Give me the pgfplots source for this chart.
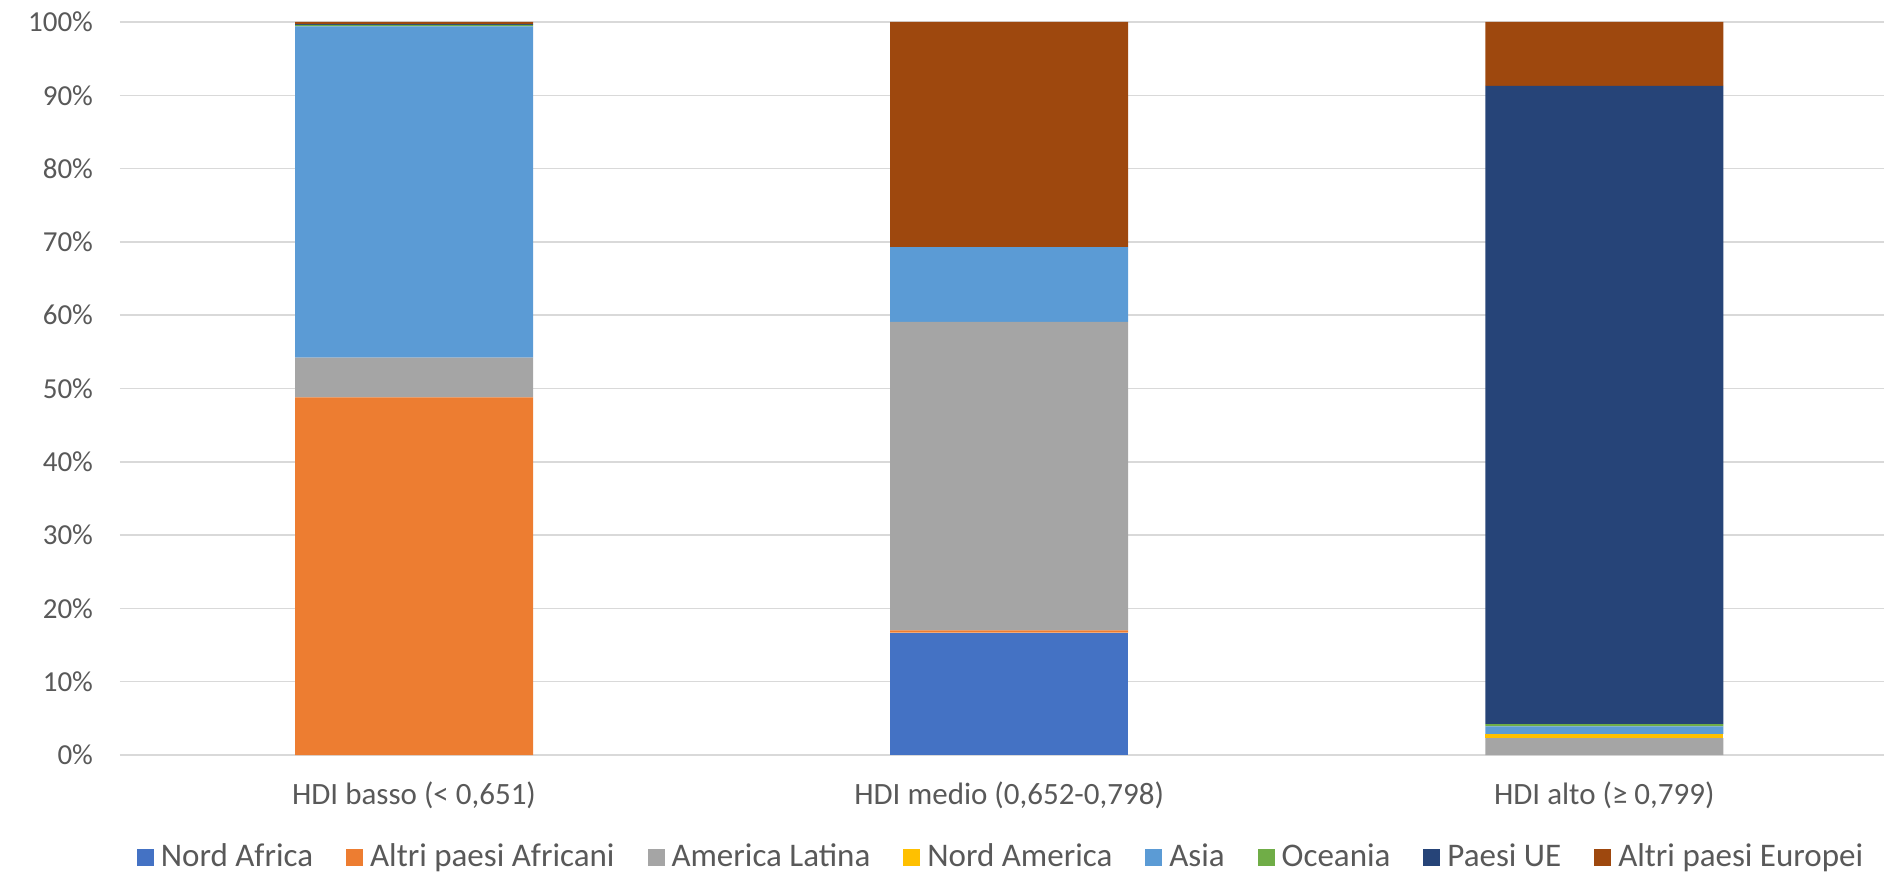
\documentclass[border=0pt]{standalone}
\usepackage{pgfplots}
\pgfplotsset{compat=1.18}
\usepackage{fontspec}
\setmainfont{Carlito}

\definecolor{cNA}{HTML}{4472C4}
\definecolor{cAF}{HTML}{ED7D31}
\definecolor{cLA}{HTML}{A5A5A5}
\definecolor{cNAm}{HTML}{FFC000}
\definecolor{cAS}{HTML}{5B9BD5}
\definecolor{cOC}{HTML}{70AD47}
\definecolor{cUE}{HTML}{264478}
\definecolor{cEU}{HTML}{9E480E}
\definecolor{txt}{HTML}{595959}
\definecolor{grd}{HTML}{D9D9D9}

\begin{document}
\begin{tikzpicture}
\begin{axis}[
  scale only axis,
  width=882pt, height=366.5pt,
  ybar stacked,
  bar width=119pt,
  xmin=-0.494, xmax=2.47,
  ymin=0, ymax=100,
  xtick={0,1,2},
  xticklabels={{HDI basso (< 0,651)}, {HDI medio (0,652-0,798)}, {HDI alto (≥ 0,799)}},
  ytick={0,10,...,100},
  yticklabel={\pgfmathprintnumber[assume math mode=true]{\tick}\%},
  ymajorgrids,
  grid style={grd, line width=0.75pt},
  axis line style={draw=none},
  major tick length=0pt,
  tick label style={font=\fontsize{14.5}{16}\selectfont, text=txt},
  xticklabel style={yshift=-10pt, font=\fontsize{15.5}{17}\selectfont},
  yticklabel style={xshift=-10pt},
  legend style={
    at={(0.5,0)}, anchor=center, yshift=-51pt,
    draw=none, font=\fontsize{16.5}{18}\selectfont, text=txt,
    /tikz/every even column/.append style={column sep=14.5pt},
    /tikz/every odd column/.append style={column sep=1.5pt},
  },
  legend columns=-1,
  legend image code/.code={\fill[#1] (0pt,-4.25pt) rectangle (8.5pt,4.25pt);},
  every axis plot/.append style={draw=none},
]
\addplot[fill=cNA] coordinates {(0,0) (1,16.7) (2,0)};
\addplot[fill=cAF] coordinates {(0,48.8) (1,0.3) (2,0)};
\addplot[fill=cLA] coordinates {(0,5.4) (1,42.1) (2,2.3)};
\addplot[fill=cNAm] coordinates {(0,0) (1,0) (2,0.6)};
\addplot[fill=cAS] coordinates {(0,45.2) (1,10.2) (2,1.0)};
\addplot[fill=cOC] coordinates {(0,0.2) (1,0) (2,0.3)};
\addplot[fill=cUE] coordinates {(0,0.1) (1,0) (2,87.1)};
\addplot[fill=cEU] coordinates {(0,0.3) (1,30.7) (2,8.7)};
\legend{Nord Africa, Altri paesi Africani, America Latina, Nord America, Asia, Oceania, Paesi UE, Altri paesi Europei}
\end{axis}
\pgfresetboundingbox
\path ([shift={(-60pt,-59.5pt)}]current axis.south west) rectangle ([shift={(2pt,11pt)}]current axis.north east);
\end{tikzpicture}
\end{document}
